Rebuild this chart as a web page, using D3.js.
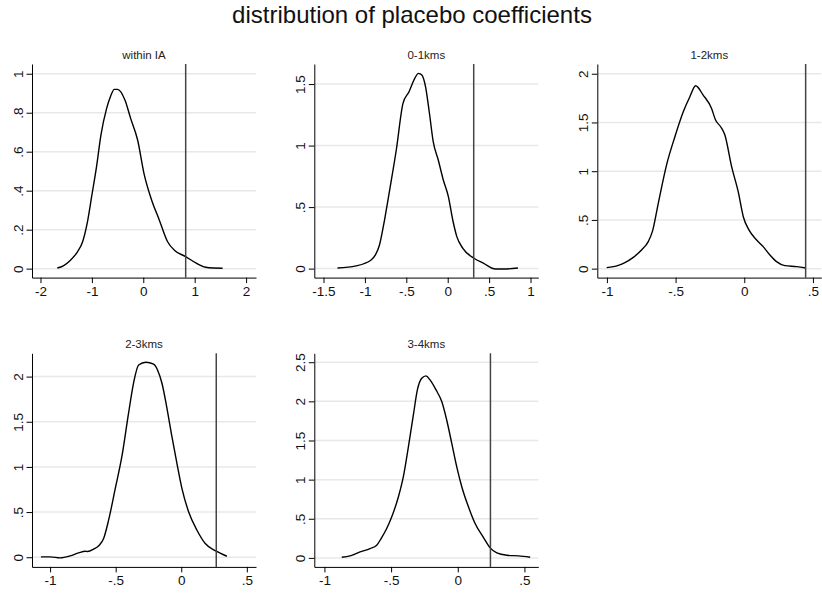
<!DOCTYPE html>
<html lang="en">
<head>
<meta charset="UTF-8">
<title>distribution of placebo coefficients</title>
<script src="https://cdn.jsdelivr.net/npm/d3@7"></script>
<style>
  body { margin: 0; background: #fff; }
  svg { display: block; font-family: "Liberation Sans", Arial, Helvetica, sans-serif; }
  .grid line { stroke: #e8e8e8; stroke-width: 1.5; }
  .axis path, .axis line { stroke: #000; stroke-width: 1; }
  .axis text { font-size: 13.5px; fill: #111; font-family: "Liberation Sans", Arial, sans-serif; }
  .density { fill: none; stroke: #000; stroke-width: 1.4; stroke-linejoin: round; }
  .observed { stroke: #444; stroke-width: 1.5; }
  .subtitle { font-size: 11.5px; fill: #222; text-anchor: middle; }
</style>
</head>
<body>
<svg id="chart" width="822" height="593"></svg>
<script>
// panel titles and the actual (observed) coefficient per panel
const titles = ['within IA', '0-1kms', '1-2kms', '2-3kms', '3-4kms']
const observed = [0.825, 0.314, 0.447, 0.267, 0.245]

// axis ranges and ticks
const xDomains = [[-2.165, 2.193], [-1.611, 1.094], [-1.07, 0.561], [-1.138, 0.57], [-1.076, 0.604]]
const yDomains = [[-0.046, 1.05], [-0.073, 1.663], [-0.092, 2.1], [-0.107, 2.258], [-0.115, 2.614]]
const xTicks = [[-2, -1, 0, 1, 2], [-1.5, -1, -0.5, 0, 0.5, 1], [-1, -0.5, 0, 0.5], [-1, -0.5, 0, 0.5], [-1, -0.5, 0, 0.5]]
const yTicks = [[0, 0.2, 0.4, 0.6, 0.8, 1], [0, 0.5, 1, 1.5], [0, 0.5, 1, 1.5, 2], [0, 0.5, 1, 1.5, 2], [0, 0.5, 1, 1.5, 2, 2.5]]

// kernel density estimates (x, density)
const withinIA = [[-1.673,0.003],[-1.556,0.014],[-1.427,0.041],[-1.284,0.085],[-1.18,0.138],[-1.089,0.236],
  [-1.005,0.369],[-0.908,0.526],[-0.824,0.685],[-0.713,0.822],[-0.636,0.885],[-0.564,0.92],[-0.5,0.92],
  [-0.357,0.865],[-0.246,0.771],[-0.11,0.66],[0.013,0.489],[0.162,0.352],[0.311,0.25],[0.473,0.138],
  [0.616,0.092],[0.824,0.062],[1.038,0.027],[1.213,0.007],[1.362,0.003],[1.543,0.002]]
const km0to1 = [[-1.331,0.005],[-1.108,0.022],[-0.925,0.07],[-0.873,0.111],[-0.824,0.192],[-0.763,0.395],
  [-0.694,0.666],[-0.621,0.964],[-0.54,1.343],[-0.467,1.438],[-0.398,1.546],[-0.353,1.587],[-0.312,1.573],
  [-0.268,1.479],[-0.223,1.275],[-0.175,1.032],[-0.114,0.883],[-0.053,0.72],[0.008,0.585],[0.061,0.395],
  [0.11,0.26],[0.183,0.165],[0.317,0.084],[0.434,0.043],[0.576,-0.003],[0.678,-0.003],[0.848,0.005]]
const km1to2 = [[-1.002,0.01],[-0.917,0.034],[-0.869,0.062],[-0.808,0.116],[-0.748,0.191],[-0.699,0.277],
  [-0.667,0.39],[-0.626,0.67],[-0.566,1.063],[-0.505,1.354],[-0.444,1.61],[-0.396,1.764],[-0.354,1.877],
  [-0.299,1.781],[-0.238,1.644],[-0.209,1.525],[-0.172,1.456],[-0.141,1.371],[-0.092,1.046],[-0.044,0.79],
  [-0.007,0.533],[0.034,0.397],[0.09,0.294],[0.138,0.226],[0.187,0.14],[0.235,0.072],[0.296,0.031],
  [0.381,0.021],[0.449,0.007]]
const km2to3 = [[-1.07,0.004],[-0.999,0.004],[-0.923,-0.007],[-0.847,0.015],[-0.783,0.048],[-0.732,0.067],
  [-0.714,0.063],[-0.669,0.089],[-0.625,0.133],[-0.592,0.207],[-0.554,0.41],[-0.503,0.762],[-0.453,1.113],
  [-0.402,1.593],[-0.364,1.926],[-0.325,2.129],[-0.27,2.159],[-0.211,2.137],[-0.181,2.074],[-0.147,1.926],
  [-0.109,1.649],[-0.071,1.335],[-0.033,1.039],[0.005,0.762],[0.056,0.503],[0.12,0.299],[0.183,0.152],
  [0.267,0.067],[0.348,0.011]]
const km3to4 = [[-0.87,0.009],[-0.808,0.026],[-0.733,0.077],[-0.658,0.119],[-0.608,0.162],[-0.575,0.247],
  [-0.533,0.375],[-0.495,0.525],[-0.445,0.781],[-0.408,1.037],[-0.37,1.421],[-0.333,1.826],[-0.303,2.146],
  [-0.27,2.295],[-0.238,2.325],[-0.208,2.274],[-0.163,2.146],[-0.12,1.997],[-0.083,1.762],[-0.045,1.463],
  [-0.008,1.165],[0.03,0.909],[0.08,0.653],[0.13,0.439],[0.193,0.26],[0.243,0.128],[0.293,0.064],
  [0.368,0.034],[0.455,0.026],[0.543,0.009]]
const series = [withinIA, km0to1, km1to2, km2to3, km3to4]

let svg = d3.select('#chart')

// layout of the 3x2 grid
let colLeft = [32, 314.3, 597.3]
let rowTop = [64, 353.3]
let plotW = 224
let plotH = 213.6

// stata style labels: .5 instead of 0.5
let fmt = (d) => String(d).replace(/^0\./, '.').replace(/^-0\./, '-.')

svg.append('text')
  .attr('x', 412)
  .attr('y', 23)
  .attr('text-anchor', 'middle')
  .attr('font-size', '24px')
  .attr('fill', '#111')
  .text('distribution of placebo coefficients')

series.forEach((data, i) => {
  let left = colLeft[i % 3]
  let top = rowTop[Math.floor(i / 3)]

  let x = d3.scaleLinear().domain(xDomains[i]).range([0, plotW])
  let y = d3.scaleLinear().domain(yDomains[i]).range([plotH, 0])

  let g = svg.append('g').attr('transform', `translate(${left},${top})`)

  g.append('g').attr('class', 'grid')
    .selectAll('line')
    .data(yTicks[i])
    .enter()
    .append('line')
    .attr('x1', 0)
    .attr('x2', plotW)
    .attr('y1', (d) => y(d))
    .attr('y2', (d) => y(d))

  g.append('path')
    .datum(data)
    .attr('class', 'density')
    .attr('d', d3.line()
      .x((d) => x(d[0]))
      .y((d) => y(d[1]))
      .curve(d3.curveMonotoneX))

  g.append('line')
    .attr('class', 'observed')
    .attr('x1', x(observed[i]))
    .attr('x2', x(observed[i]))
    .attr('y1', 0)
    .attr('y2', plotH)

  g.append('g').attr('class', 'axis')
    .attr('transform', `translate(0,${plotH})`)
    .call(d3.axisBottom(x).tickValues(xTicks[i]).tickFormat(fmt).tickSize(5.5).tickSizeOuter(0).tickPadding(3.5))

  let yAxis = g.append('g').attr('class', 'axis')
    .call(d3.axisLeft(y).tickValues(yTicks[i]).tickFormat(fmt).tickSize(5.5).tickSizeOuter(0))
  yAxis.selectAll('text')
    .attr('x', 0)
    .attr('dy', null)
    .attr('text-anchor', 'middle')
    .attr('transform', 'translate(-9,0) rotate(-90)')

  g.append('text')
    .attr('class', 'subtitle')
    .attr('x', plotW / 2)
    .attr('y', -5)
    .text(titles[i])
})
</script>
</body>
</html>
